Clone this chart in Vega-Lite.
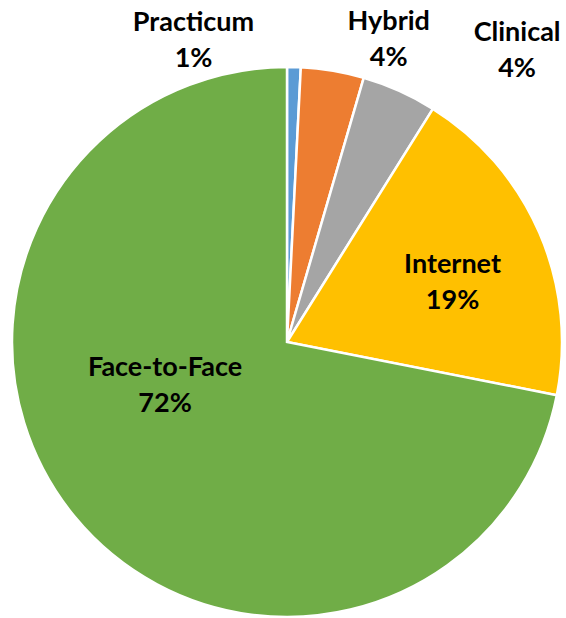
{
  "$schema": "https://vega.github.io/schema/vega-lite/v6.json",
  "width": 550,
  "height": 550,
  "autosize": {"type": "none"},
  "padding": {"left": 12, "top": 67, "right": 4, "bottom": 1},
  "background": "white",
  "config": {"view": {"stroke": null}},
  "data": {
    "values": [
      {"cat": "Practicum", "value": 0.8, "label": "Practicum\n1%", "ord": 1},
      {"cat": "Hybrid", "value": 3.7, "label": "Hybrid\n4%", "ord": 2},
      {"cat": "Clinical", "value": 4.4, "label": "Clinical\n4%", "ord": 3},
      {"cat": "Internet", "value": 19.2, "label": "Internet\n19%", "ord": 4},
      {"cat": "Face-to-Face", "value": 71.9, "label": "Face-to-Face\n72%", "ord": 5}
    ]
  },
  "encoding": {
    "theta": {"field": "value", "type": "quantitative", "stack": true},
    "order": {"field": "ord", "type": "quantitative"}
  },
  "layer": [
    {
      "mark": {"type": "arc", "outerRadius": 275, "stroke": "white", "strokeWidth": 2.5},
      "encoding": {
        "color": {
          "field": "cat",
          "type": "nominal",
          "scale": {
            "domain": ["Practicum", "Hybrid", "Clinical", "Internet", "Face-to-Face"],
            "range": ["#5B9BD5", "#ED7D31", "#A5A5A5", "#FFC000", "#70AD47"]
          },
          "legend": null
        }
      }
    },
    {
      "mark": {"type": "text", "radius": 176, "dx": 4, "dy": -7, "font": "Lato", "fontWeight": "bold", "fontSize": 27, "lineBreak": "\n", "lineHeight": 36, "align": "center", "baseline": "middle", "color": "black"},
      "encoding": {"text": {"condition": {"test": "datum.cat === 'Internet'", "field": "label"}, "value": ""}}
    },
    {
      "mark": {"type": "text", "radius": 130, "dx": -21.5, "dy": -56.6, "font": "Lato", "fontWeight": "bold", "fontSize": 27, "lineBreak": "\n", "lineHeight": 36, "align": "center", "baseline": "middle", "color": "black"},
      "encoding": {"text": {"condition": {"test": "datum.cat === 'Face-to-Face'", "field": "label"}, "value": ""}}
    },
    {
      "mark": {"type": "text", "radius": 300, "dx": -101, "dy": -19, "font": "Lato", "fontWeight": "bold", "fontSize": 27, "lineBreak": "\n", "lineHeight": 36, "align": "center", "baseline": "middle", "color": "black"},
      "encoding": {"text": {"condition": {"test": "datum.cat === 'Practicum'", "field": "label"}, "value": ""}}
    },
    {
      "mark": {"type": "text", "radius": 300, "dx": 52, "dy": -24, "font": "Lato", "fontWeight": "bold", "fontSize": 27, "lineBreak": "\n", "lineHeight": 36, "align": "center", "baseline": "middle", "color": "black"},
      "encoding": {"text": {"condition": {"test": "datum.cat === 'Hybrid'", "field": "label"}, "value": ""}}
    },
    {
      "mark": {"type": "text", "radius": 300, "dx": 107.5, "dy": -35, "font": "Lato", "fontWeight": "bold", "fontSize": 27, "lineBreak": "\n", "lineHeight": 36, "align": "center", "baseline": "middle", "color": "black"},
      "encoding": {"text": {"condition": {"test": "datum.cat === 'Clinical'", "field": "label"}, "value": ""}}
    }
  ]
}
